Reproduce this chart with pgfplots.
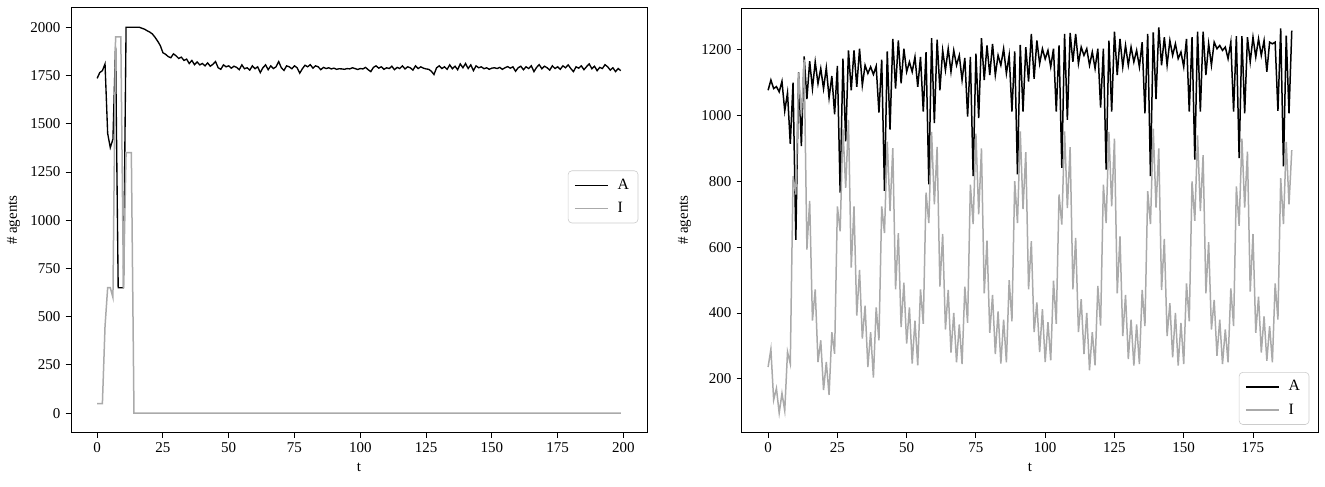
\documentclass[border=0pt]{standalone}
\usepackage{fontspec}
\setmainfont{Liberation Serif}
\usepackage{pgfplots}
\pgfplotsset{compat=1.18}
\usepackage{pgfplotstable}

\definecolor{igray}{RGB}{170,170,170}

% left run: t, active, inactive
\pgfplotstableread[row sep=\\]{
t A I\\
0 1735 50\\ 1 1765 50\\ 2 1775 50\\ 3 1810 450\\ 4 1450 650\\ 5 1376 650\\ 6 1420 600\\ 7 1900 1950\\
8 650 1950\\ 9 650 1950\\ 10 650 650\\ 11 2000 1350\\ 12 2000 1350\\ 13 2000 1350\\ 14 2000 0\\ 15 2000 0\\
16 2000 0\\ 17 1995 0\\ 18 1990 0\\ 19 1982 0\\ 20 1975 0\\ 21 1965 0\\ 22 1948 0\\ 23 1928 0\\
24 1905 0\\ 25 1868 0\\ 26 1860 0\\ 27 1848 0\\ 28 1842 0\\ 29 1862 0\\ 30 1852 0\\ 31 1838 0\\
32 1845 0\\ 33 1828 0\\ 34 1835 0\\ 35 1812 0\\ 36 1828 0\\ 37 1806 0\\ 38 1820 0\\ 39 1805 0\\
40 1812 0\\ 41 1800 0\\ 42 1815 0\\ 43 1798 0\\ 44 1808 0\\ 45 1822 0\\ 46 1790 0\\ 47 1782 0\\
48 1805 0\\ 49 1795 0\\ 50 1800 0\\ 51 1788 0\\ 52 1798 0\\ 53 1792 0\\ 54 1780 0\\ 55 1805 0\\
56 1785 0\\ 57 1790 0\\ 58 1778 0\\ 59 1800 0\\ 60 1785 0\\ 61 1795 0\\ 62 1765 0\\ 63 1790 0\\
64 1805 0\\ 65 1780 0\\ 66 1800 0\\ 67 1786 0\\ 68 1795 0\\ 69 1822 0\\ 70 1790 0\\ 71 1776 0\\
72 1800 0\\ 73 1795 0\\ 74 1785 0\\ 75 1800 0\\ 76 1790 0\\ 77 1762 0\\ 78 1785 0\\ 79 1803 0\\
80 1795 0\\ 81 1806 0\\ 82 1788 0\\ 83 1800 0\\ 84 1795 0\\ 85 1780 0\\ 86 1792 0\\ 87 1786 0\\
88 1790 0\\ 89 1784 0\\ 90 1788 0\\ 91 1782 0\\ 92 1785 0\\ 93 1784 0\\ 94 1782 0\\ 95 1786 0\\
96 1784 0\\ 97 1790 0\\ 98 1786 0\\ 99 1781 0\\ 100 1786 0\\ 101 1784 0\\ 102 1792 0\\ 103 1780 0\\
104 1770 0\\ 105 1792 0\\ 106 1800 0\\ 107 1788 0\\ 108 1795 0\\ 109 1782 0\\ 110 1790 0\\ 111 1786 0\\
112 1798 0\\ 113 1780 0\\ 114 1792 0\\ 115 1786 0\\ 116 1800 0\\ 117 1784 0\\ 118 1795 0\\ 119 1790 0\\
120 1778 0\\ 121 1800 0\\ 122 1786 0\\ 123 1795 0\\ 124 1788 0\\ 125 1784 0\\ 126 1782 0\\ 127 1772 0\\
128 1755 0\\ 129 1790 0\\ 130 1800 0\\ 131 1786 0\\ 132 1795 0\\ 133 1782 0\\ 134 1805 0\\ 135 1785 0\\
136 1798 0\\ 137 1780 0\\ 138 1810 0\\ 139 1790 0\\ 140 1812 0\\ 141 1786 0\\ 142 1805 0\\ 143 1775 0\\
144 1800 0\\ 145 1790 0\\ 146 1795 0\\ 147 1785 0\\ 148 1790 0\\ 149 1782 0\\ 150 1788 0\\ 151 1790 0\\
152 1786 0\\ 153 1792 0\\ 154 1782 0\\ 155 1790 0\\ 156 1796 0\\ 157 1788 0\\ 158 1795 0\\ 159 1772 0\\
160 1790 0\\ 161 1798 0\\ 162 1780 0\\ 163 1795 0\\ 164 1786 0\\ 165 1800 0\\ 166 1770 0\\ 167 1792 0\\
168 1806 0\\ 169 1785 0\\ 170 1798 0\\ 171 1790 0\\ 172 1778 0\\ 173 1800 0\\ 174 1786 0\\ 175 1795 0\\
176 1782 0\\ 177 1800 0\\ 178 1790 0\\ 179 1805 0\\ 180 1786 0\\ 181 1770 0\\ 182 1795 0\\ 183 1788 0\\
184 1800 0\\ 185 1780 0\\ 186 1796 0\\ 187 1810 0\\ 188 1785 0\\ 189 1798 0\\ 190 1775 0\\ 191 1792 0\\
192 1786 0\\ 193 1806 0\\ 194 1795 0\\ 195 1778 0\\ 196 1790 0\\ 197 1770 0\\ 198 1786 0\\ 199 1775 0\\
}\leftrun

% right run: periodic
\pgfplotstableread[row sep=\\]{
t A I\\
0 1077 236\\ 1 1108 290\\ 2 1082 136\\ 3 1088 171\\ 4 1072 96\\ 5 1104 156\\ 6 1014 103\\ 7 1069 282\\
8 914 246\\ 9 1100 816\\ 10 622 760\\ 11 1131 1130\\ 12 907 1000\\ 13 1180 1170\\ 14 1050 593\\ 15 1165 741\\
16 1082 377\\ 17 1163 472\\ 18 1097 251\\ 19 1143 317\\ 20 1082 166\\ 21 1145 251\\ 22 1054 151\\ 23 1120 342\\
24 1004 276\\ 25 1151 724\\ 26 766 648\\ 27 1173 960\\ 28 922 780\\ 29 1198 987\\ 30 1077 538\\ 31 1198 724\\
32 1087 392\\ 33 1203 531\\ 34 1092 322\\ 35 1153 422\\ 36 1128 236\\ 37 1148 342\\ 38 1125 204\\ 39 1150 417\\
40 1009 317\\ 41 1170 724\\ 42 771 643\\ 43 1195 921\\ 44 957 710\\ 45 1233 901\\ 46 1082 472\\ 47 1228 643\\
48 1098 357\\ 49 1203 492\\ 50 1133 307\\ 51 1163 417\\ 52 1133 246\\ 53 1178 377\\ 54 1087 241\\ 55 1178 472\\
56 1012 367\\ 57 1193 766\\ 58 791 673\\ 59 1235 950\\ 60 977 730\\ 61 1231 905\\ 62 1077 480\\ 63 1198 640\\
64 1138 350\\ 65 1203 470\\ 66 1133 280\\ 67 1198 400\\ 68 1153 250\\ 69 1183 365\\ 70 1108 245\\ 71 1175 480\\
72 997 370\\ 73 1178 790\\ 74 816 670\\ 75 1188 945\\ 76 992 700\\ 77 1235 900\\ 78 1108 460\\ 79 1213 620\\
80 1123 340\\ 81 1218 455\\ 82 1123 275\\ 83 1183 405\\ 84 1153 246\\ 85 1203 380\\ 86 1128 250\\ 87 1183 500\\
88 1012 375\\ 89 1195 801\\ 90 821 673\\ 91 1215 952\\ 92 1012 716\\ 93 1208 889\\ 94 1103 472\\ 95 1248 618\\
96 1112 342\\ 97 1228 432\\ 98 1158 281\\ 99 1203 412\\ 100 1172 251\\ 101 1198 372\\ 102 1148 256\\ 103 1203 498\\
104 1012 367\\ 105 1213 760\\ 106 841 669\\ 107 1248 952\\ 108 987 719\\ 109 1251 904\\ 110 1163 472\\ 111 1248 628\\
112 1158 342\\ 113 1208 442\\ 114 1183 275\\ 115 1203 400\\ 116 1153 226\\ 117 1193 342\\ 118 1143 241\\ 119 1203 482\\
120 1024 362\\ 121 1203 790\\ 122 836 673\\ 123 1228 950\\ 124 1012 724\\ 125 1255 930\\ 126 1123 460\\ 127 1233 633\\
128 1148 330\\ 129 1213 455\\ 130 1153 260\\ 131 1208 380\\ 132 1163 240\\ 133 1198 365\\ 134 1148 245\\ 135 1223 470\\
136 1007 360\\ 137 1248 770\\ 138 816 670\\ 139 1253 960\\ 140 1050 720\\ 141 1268 900\\ 142 1153 470\\ 143 1238 625\\
144 1153 330\\ 145 1228 430\\ 146 1183 265\\ 147 1218 400\\ 148 1173 240\\ 149 1193 370\\ 150 1148 245\\ 151 1233 490\\
152 1012 375\\ 153 1238 800\\ 154 866 680\\ 155 1255 940\\ 156 1012 710\\ 157 1255 880\\ 158 1123 460\\ 159 1218 615\\
160 1153 350\\ 161 1223 440\\ 162 1203 270\\ 163 1213 380\\ 164 1198 245\\ 165 1208 350\\ 166 1173 250\\ 167 1223 475\\
168 1012 360\\ 169 1241 785\\ 170 871 665\\ 171 1241 930\\ 172 1007 720\\ 173 1238 890\\ 174 1163 465\\ 175 1238 640\\
176 1178 340\\ 177 1233 450\\ 178 1183 280\\ 179 1228 390\\ 180 1133 255\\ 181 1223 360\\ 182 1218 250\\ 183 1223 490\\
184 1014 380\\ 185 1265 810\\ 186 846 670\\ 187 1243 920\\ 188 1007 730\\ 189 1258 895\\
}\rightrun

\pgfplotsset{
  runaxis/.style={
    scale only axis,
    width=384pt, height=283pt,
    axis line style={line width=0.6pt},
    tick align=outside,
    xtick pos=left, ytick pos=left,
    major tick length=3.5pt,
    tick style={black, line width=0.6pt},
    xlabel={t}, ylabel={\# agents},
    /pgf/number format/assume math mode=true,
    /pgf/number format/1000 sep={},
    tick label style={font=\fontsize{10}{12}\selectfont},
    label style={font=\fontsize{10}{12}\selectfont},
    legend style={draw=black!20, rounded corners=2.5pt,
      font=\fontsize{10.5}{12}\selectfont, cells={anchor=west},
      inner xsep=4pt, inner ysep=3.5pt, row sep=3pt,
      /tikz/every odd column/.append style={column sep=4pt}},
    legend image code/.code={\draw[#1] (0pt,0pt) -- (22pt,0pt);},
  },
}

\begin{document}
\begin{tikzpicture}
\path (-47.3pt,-36pt) rectangle (836pt,288.3pt);

\begin{axis}[runaxis,
    xmin=-9.95, xmax=208.95, ymin=-100, ymax=2100,
    xtick={0,25,...,200}, ytick={0,250,...,2000},
    legend style={at={(0.985,0.555)}, anchor=east}]
\addplot[black, line width=0.9pt] table[x=t, y=A] {\leftrun};
\addplot[igray, line width=1pt] table[x=t, y=I] {\leftrun};
\legend{A, I}
\end{axis}

\begin{axis}[runaxis, at={(447.3pt,0pt)},
    xmin=-9.45, xmax=198.45, ymin=37, ymax=1327,
    xtick={0,25,...,175}, ytick={200,400,...,1200},
    legend style={at={(0.985,0.018)}, anchor=south east}]
\addplot[black, line width=1pt] table[x=t, y=A] {\rightrun};
\addplot[igray, line width=1pt] table[x=t, y=I] {\rightrun};
\legend{A, I}
\end{axis}
\end{tikzpicture}
\end{document}
